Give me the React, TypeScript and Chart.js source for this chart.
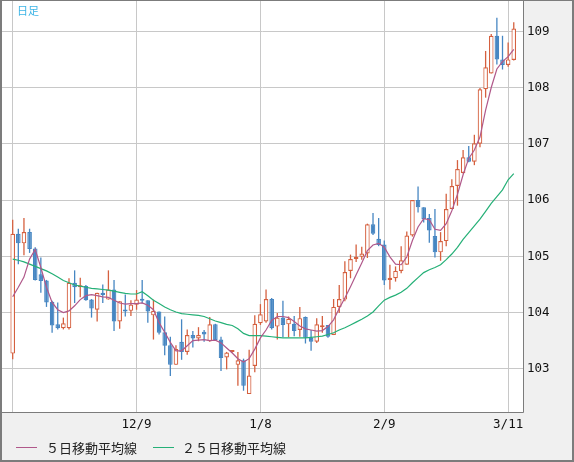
import { useEffect, useRef } from 'react';
import { Chart, registerables } from 'chart.js';

Chart.register(...registerables);

// One candle per trading session (index 0..89)
const opens = [
  103.27, 105.40, 105.23, 105.43, 105.14, 104.68, 104.57, 104.19, 103.79, 103.72,
  103.72, 104.53, 104.45, 104.47, 104.23, 104.05, 104.35, 104.23, 104.41, 103.84,
  104.05, 104.03, 104.14, 104.24, 104.22, 103.95, 104.02, 103.65, 103.42, 103.07,
  103.48, 103.30, 103.60, 103.54, 103.66, 103.49, 103.79, 103.52, 103.20, 103.30,
  103.07, 103.15, 102.55, 103.05, 103.81, 103.84, 104.24, 103.75, 103.91, 103.79,
  103.80, 103.69, 103.92, 103.55, 103.48, 103.74, 103.78, 103.60, 104.10, 104.23,
  104.74, 104.95, 104.99, 105.05, 105.57, 105.31, 105.21, 104.58, 104.61, 104.74,
  104.85, 105.37, 106.00, 105.87, 105.68, 105.36, 105.07, 105.27, 105.84, 106.25,
  106.48, 106.76, 106.68, 107.00, 107.97, 108.25, 108.92, 108.50, 108.40, 108.49,
];
const highs = [
  105.65, 105.49, 105.68, 105.49, 105.16, 104.98, 104.58, 104.21, 104.18, 103.91,
  104.61, 104.75, 104.62, 104.49, 104.24, 104.35, 104.50, 104.75, 104.58, 104.20,
  104.32, 104.22, 104.40, 104.58, 104.22, 104.23, 104.02, 103.93, 103.57, 103.42,
  103.88, 103.70, 103.67, 103.74, 103.69, 103.92, 103.80, 103.57, 103.30, 103.31,
  103.30, 103.18, 103.34, 103.95, 104.15, 104.41, 104.26, 103.99, 104.21, 103.93,
  103.94, 104.10, 103.93, 103.69, 103.90, 103.94, 103.78, 104.24, 104.49, 104.91,
  105.03, 105.21, 105.17, 105.58, 105.77, 105.68, 105.28, 104.85, 104.82, 105.18,
  105.44, 106.00, 106.24, 105.87, 105.75, 105.84, 105.43, 106.11, 106.37, 106.71,
  106.89, 106.96, 107.16, 107.99, 108.65, 108.95, 109.24, 108.92, 108.80, 109.16,
];
const lows = [
  103.17, 104.86, 105.02, 105.06, 104.57, 104.35, 104.10, 103.64, 103.70, 103.70,
  103.70, 104.17, 104.27, 104.21, 103.91, 103.84, 104.17, 104.23, 103.67, 103.71,
  103.93, 103.94, 104.05, 104.16, 103.82, 103.52, 103.61, 103.24, 102.87, 103.07,
  103.16, 103.25, 103.38, 103.49, 103.48, 103.48, 103.51, 102.96, 102.99, 103.29,
  102.70, 102.61, 102.55, 102.94, 103.78, 103.82, 103.70, 103.52, 103.56, 103.56,
  103.58, 103.57, 103.45, 103.32, 103.46, 103.64, 103.55, 103.60, 103.99, 104.20,
  104.61, 104.90, 104.94, 104.97, 105.38, 105.18, 104.49, 104.41, 104.55, 104.70,
  104.85, 105.35, 105.78, 105.60, 105.24, 104.98, 104.92, 105.18, 105.84, 105.90,
  106.47, 106.67, 106.62, 106.94, 107.82, 108.25, 108.41, 108.32, 108.37, 108.48,
];
const closes = [
  105.40, 105.23, 105.43, 105.13, 104.58, 104.56, 104.18, 103.77, 103.72, 103.81,
  104.53, 104.45, 104.48, 104.22, 104.07, 104.35, 104.31, 104.41, 103.84, 104.20,
  104.02, 104.14, 104.23, 104.21, 104.02, 104.03, 103.64, 103.41, 103.07, 103.35,
  103.30, 103.60, 103.54, 103.60, 103.61, 103.79, 103.51, 103.19, 103.29, 103.31,
  103.15, 102.70, 102.88, 103.80, 103.97, 104.24, 103.72, 103.91, 103.78, 103.89,
  103.67, 103.90, 103.55, 103.48, 103.79, 103.77, 103.57, 104.10, 104.24, 104.72,
  104.95, 104.99, 105.05, 105.57, 105.40, 105.20, 104.57, 104.62, 104.74, 104.93,
  105.37, 106.00, 105.87, 105.66, 105.46, 105.07, 105.27, 105.84, 106.25, 106.55,
  106.76, 106.68, 107.01, 107.97, 108.36, 108.92, 108.50, 108.40, 108.50, 109.05,
];
// 5-day moving average as drawn
const ma5 = [
  104.28, 104.45, 104.63, 104.95, 105.12, 104.80, 104.45, 104.18, 104.05, 104.00,
  104.03, 104.12, 104.23, 104.30, 104.32, 104.30, 104.28, 104.27, 104.22, 104.17,
  104.15, 104.16, 104.16, 104.17, 104.13, 104.05, 103.82, 103.65, 103.47, 103.32,
  103.32, 103.41, 103.50, 103.51, 103.52, 103.50, 103.51, 103.46, 103.37, 103.28,
  103.18, 103.12, 103.18, 103.35, 103.55, 103.69, 103.86, 103.93, 103.93, 103.91,
  103.84, 103.76, 103.71, 103.69, 103.67, 103.68, 103.75, 103.87, 104.07, 104.26,
  104.46, 104.67, 104.88, 105.10, 105.20, 105.23, 105.16, 104.99, 104.86, 104.85,
  104.99, 105.28, 105.52, 105.67, 105.65, 105.48, 105.46, 105.58, 105.81, 106.10,
  106.45, 106.74, 106.89, 107.12, 107.60, 108.00, 108.33, 108.46, 108.55, 108.68,
];
// 25-day moving average as drawn
const ma25 = [
  104.95, 104.93, 104.90, 104.86, 104.82, 104.78, 104.74, 104.69, 104.63, 104.57,
  104.53, 104.49, 104.47, 104.45, 104.43, 104.42, 104.41, 104.40, 104.38, 104.36,
  104.34, 104.33, 104.33, 104.37, 104.30, 104.22, 104.16, 104.10, 104.05, 104.01,
  103.98, 103.97, 103.96, 103.95, 103.93, 103.89, 103.85, 103.82, 103.79, 103.77,
  103.71, 103.63, 103.59, 103.59, 103.59, 103.58, 103.57, 103.56, 103.55, 103.55,
  103.55, 103.55, 103.55, 103.56, 103.57, 103.58, 103.61, 103.64, 103.69, 103.73,
  103.78, 103.83, 103.88, 103.94, 104.01, 104.12, 104.22, 104.27, 104.31, 104.36,
  104.43, 104.53, 104.62, 104.71, 104.76, 104.80, 104.85, 104.94, 105.04, 105.16,
  105.30, 105.42, 105.54, 105.66, 105.80, 105.94, 106.06, 106.18, 106.36, 106.47,
];

const xTickIndex = [0, 22, 44, 66, 88];
const xTickLabels = ['', '12/9', '1/8', '2/9', '3/11'];
const yTicks = [103, 104, 105, 106, 107, 108, 109];

const UP = '#d5603f';
const DOWN = '#4686c2';
const MA5C = '#b0588a';
const MA25C = '#25b077';
const GRID = '#c8c8c8';
const FRAME = '#7c7c7c';

const framePlugin = {
  id: 'frame',
  beforeDraw(chart: any) {
    const { ctx, chartArea: a, width, height } = chart;
    ctx.save();
    ctx.fillStyle = '#f0f0f0';
    ctx.fillRect(0, 0, width, height);
    ctx.fillStyle = '#ffffff';
    ctx.fillRect(a.left, a.top, a.right - a.left, a.bottom - a.top);
    ctx.restore();
  },
  afterDraw(chart: any) {
    const { ctx, chartArea: a, width, height } = chart;
    ctx.save();
    ctx.strokeStyle = FRAME;
    ctx.lineWidth = 1;
    ctx.beginPath();
    ctx.moveTo(a.right + 0.5, 0);
    ctx.lineTo(a.right + 0.5, a.bottom + 0.5);
    ctx.moveTo(0, a.bottom + 0.5);
    ctx.lineTo(a.right + 0.5, a.bottom + 0.5);
    ctx.stroke();
    ctx.fillStyle = FRAME;
    ctx.fillRect(0, 0, 2, height);
    ctx.fillRect(width - 2, 0, 2, height);
    ctx.fillRect(0, height - 2, width, 2);
    ctx.fillRect(0, 0, width, 1);
    ctx.restore();
  },
};

const noPad = (s: any) => {
  s.paddingTop = 0;
  s.paddingBottom = 0;
  s.paddingLeft = 0;
  s.paddingRight = 0;
};

export default function App() {
  const ref = useRef<HTMLCanvasElement>(null);

  useEffect(() => {
    document.body.style.margin = '0';
    const isUp = closes.map((c, i) => c >= opens[i]);
    const chart = new Chart(ref.current as HTMLCanvasElement, {
      type: 'bar',
      data: {
        datasets: [
          {
            type: 'line',
            data: ma5.map((v, i) => ({ x: i, y: v })),
            borderColor: MA5C,
            borderWidth: 1.2,
            pointRadius: 0,
            tension: 0,
            order: 0,
          } as any,
          {
            type: 'line',
            data: ma25.map((v, i) => ({ x: i, y: v })),
            borderColor: MA25C,
            borderWidth: 1.2,
            pointRadius: 0,
            tension: 0,
            order: 0,
          } as any,
          {
            type: 'bar',
            data: opens.map((o, i) => ({ x: i, y: [o, closes[i]] })),
            backgroundColor: isUp.map((u) => (u ? '#ffffff' : DOWN)),
            borderColor: isUp.map((u) => (u ? UP : DOWN)),
            borderWidth: 1.2,
            borderSkipped: false,
            barThickness: 4.6,
            minBarLength: 2,
            inflateAmount: 0,
            grouped: false,
            order: 1,
          } as any,
          {
            type: 'bar',
            data: lows.map((l, i) => ({ x: i, y: [l, highs[i]] })),
            backgroundColor: isUp.map((u) => (u ? UP : DOWN)),
            borderWidth: 0,
            barThickness: 1.3,
            inflateAmount: 0,
            grouped: false,
            order: 2,
          } as any,
        ],
      },
      options: {
        responsive: false,
        animation: false,
        devicePixelRatio: 1,
        layout: { padding: { left: 2, top: 0, right: 0, bottom: 0 } },
        plugins: { legend: { display: false }, tooltip: { enabled: false } },
        scales: {
          x: {
            type: 'linear',
            min: -1.9,
            max: 90.64,
            offset: false,
            afterBuildTicks: (s: any) => {
              s.ticks = xTickIndex.map((v) => ({ value: v }));
            },
            afterFit: (s: any) => {
              s.height = 50;
              noPad(s);
            },
            ticks: {
              autoSkip: false,
              maxRotation: 0,
              padding: 5,
              color: '#111',
              font: { family: 'DejaVu Sans Mono', size: 12.5 },
              callback: (v: any) => {
                const k = xTickIndex.indexOf(Number(v));
                return k >= 0 ? xTickLabels[k] : '';
              },
            },
            grid: { color: GRID, drawTicks: false, offset: false },
            border: { display: false },
          },
          y: {
            position: 'right',
            min: 102.232,
            max: 109.556,
            afterBuildTicks: (s: any) => {
              s.ticks = yTicks.map((v) => ({ value: v }));
            },
            afterFit: (s: any) => {
              s.width = 51;
              noPad(s);
            },
            ticks: {
              padding: 4,
              color: '#111',
              font: { family: 'DejaVu Sans Mono', size: 12.5 },
              callback: (v: any) => String(v),
            },
            grid: { color: GRID, drawTicks: false },
            border: { display: false },
          },
        },
      } as any,
      plugins: [framePlugin],
    });
    return () => chart.destroy();
  }, []);

  const cjk = '"Noto Sans CJK JP", "Noto Sans", sans-serif';
  return (
    <div style={{ position: 'relative', width: 574, height: 462 }}>
      <canvas ref={ref} width={574} height={462} style={{ display: 'block', width: 574, height: 462 }} />
      <div style={{ position: 'absolute', left: 17, top: 4, fontFamily: cjk, fontSize: 11, lineHeight: '12px', color: '#3cb4e6' }}>日足</div>
      <div style={{ position: 'absolute', left: 16, top: 447, width: 21, height: 0, borderTop: `1px solid ${MA5C}` }} />
      <div style={{ position: 'absolute', left: 46, top: 441, fontFamily: cjk, fontSize: 13, lineHeight: '14px', color: '#222', whiteSpace: 'nowrap' }}>５日移動平均線</div>
      <div style={{ position: 'absolute', left: 153, top: 447, width: 21, height: 0, borderTop: `1px solid ${MA25C}` }} />
      <div style={{ position: 'absolute', left: 182, top: 441, fontFamily: cjk, fontSize: 13, lineHeight: '14px', color: '#222', whiteSpace: 'nowrap' }}>２５日移動平均線</div>
    </div>
  );
}
